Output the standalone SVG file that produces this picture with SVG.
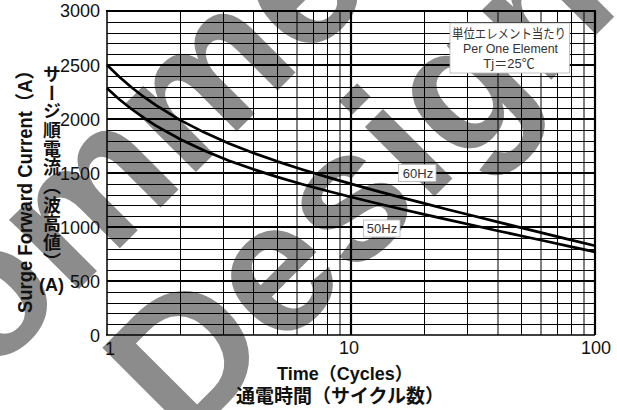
<svg xmlns="http://www.w3.org/2000/svg" width="617" height="410" viewBox="0 0 617 410">
<style>
.wm{font-family:"Liberation Sans",Arial,sans-serif;font-weight:bold;font-size:186px;fill:#8c8c8c}
.thin{stroke:#000;stroke-width:1;fill:none}
.thick{stroke:#000;stroke-width:2.2;fill:none}
.curve{stroke:#000;stroke-width:2.7;fill:none;stroke-linejoin:round}
.tick{font-family:"Liberation Sans",Arial,sans-serif;font-size:18px;fill:#111}
.title{font-family:"Liberation Sans","Noto Sans CJK JP",sans-serif;font-weight:bold;fill:#111}
.lbl{font-family:"Liberation Sans","Noto Sans CJK JP",sans-serif;font-size:13px;fill:#333}
.box{fill:#fff;stroke:#b4b4b4;stroke-width:0.8}
</style>
<rect width="617" height="410" fill="#fff"/>
<g id="watermark" class="wm" transform="translate(184,447) rotate(-45)">
<text x="-792" y="-186">Not Recommended</text>
<text x="620" y="0" text-anchor="end">for New Design</text>
</g>
<g id="grid">
<path class="thin" d="M107 22.5H595M107 33.5H595M107 43.5H595M107 54.5H595M107 76.5H595M107 87.5H595M107 97.5H595M107 108.5H595M107 130.5H595M107 141.5H595M107 151.5H595M107 162.5H595M107 184.5H595M107 195.5H595M107 205.5H595M107 216.5H595M107 238.5H595M107 249.5H595M107 259.5H595M107 270.5H595M107 292.5H595M107 303.5H595M107 313.5H595M107 324.5H595"/>
<path class="thin" d="M180.5 11V335M223.5 11V335M253.5 11V335M277.5 11V335M297 11V335M313.5 11V335M327.5 11V335M340 11V335M424.5 11V335M467.5 11V335M498 11V335M521.5 11V335M541 11V335M557.5 11V335M571.5 11V335M584 11V335"/>
<path class="thick" d="M107 65H595M107 119H595M107 173H595M107 227H595M107 281H595M351 11V335"/>
<path stroke="#000" stroke-width="1.5" fill="none" d="M106 335H595M107 11V335"/>
<path class="thick" d="M106 11H596M595 11V335"/>
</g>
<g id="curves">
<polyline id="c60" class="curve" points="107,65 119.2,76.7 131.4,87.2 143.6,96.7 155.8,105.2 180.2,120.1 204.6,132.6 229,143.4 253.4,153 277.8,161.6 302.2,169.5 326.6,176.9 351,183.9 375.4,190.6 399.8,197.1 424.2,203.4 448.6,209.7 473,215.8 497.4,221.9 521.8,227.9 546.2,233.9 570.6,239.9 595,245.8"/>
<polyline id="c50" class="curve" points="107,88.3 119.2,99.2 131.4,109 143.6,117.7 155.8,125.6 180.2,139.3 204.6,150.8 229,160.7 253.4,169.3 277.8,177.1 302.2,184.2 326.6,190.8 351,197 375.4,203 399.8,208.8 424.2,214.4 448.6,219.9 473,225.3 497.4,230.7 521.8,236 546.2,241.3 570.6,246.6 595,251.9"/>
</g>
<g id="legend">
<rect class="box" x="450" y="23" width="119.5" height="50"/>
<text class="lbl" x="509" y="38" text-anchor="middle" font-size="12" textLength="114" lengthAdjust="spacingAndGlyphs">単位エレメント当たり</text>
<text class="lbl" x="510.5" y="53" text-anchor="middle" font-size="13.5" textLength="95" lengthAdjust="spacingAndGlyphs">Per One Element</text>
<text class="lbl" x="509" y="67.5" text-anchor="middle" font-size="13">Tj＝25℃</text>
</g>
<g id="label60">
<rect class="box" x="398.5" y="164.5" width="37.5" height="17"/>
<text class="lbl" x="418" y="178" text-anchor="middle">60Hz</text>
</g>
<g id="label50">
<rect class="box" x="363.5" y="220" width="36.5" height="17"/>
<text class="lbl" x="382" y="233" text-anchor="middle">50Hz</text>
</g>
<g id="yticks" class="tick" text-anchor="end">
<text x="100" y="17">3000</text>
<text x="100" y="72">2500</text>
<text x="100" y="126">2000</text>
<text x="100" y="180">1500</text>
<text x="100" y="234">1000</text>
<text x="100" y="288">500</text>
<text x="100" y="342">0</text>
</g>
<g id="xticks" class="tick">
<text x="105" y="355">1</text>
<text x="349" y="354" text-anchor="middle">10</text>
<text x="596" y="354" text-anchor="middle">100</text>
</g>
<g id="axis-titles">
<text class="title" x="277" y="380" font-size="18">Time（Cycles）</text>
<text class="title" x="236" y="403" font-size="19">通電時間（サイクル数）</text>
<text class="title" font-size="19.5" transform="translate(32,313) rotate(-90)" textLength="252" lengthAdjust="spacingAndGlyphs">Surge Forward Current（A）</text>
<text class="title" x="50" y="65" font-size="18" letter-spacing="0.7" writing-mode="vertical-rl">サージ順電流（波高値）</text>
<text class="title" x="51.5" y="291" font-size="18" text-anchor="middle">(A)</text>
</g>
</svg>
